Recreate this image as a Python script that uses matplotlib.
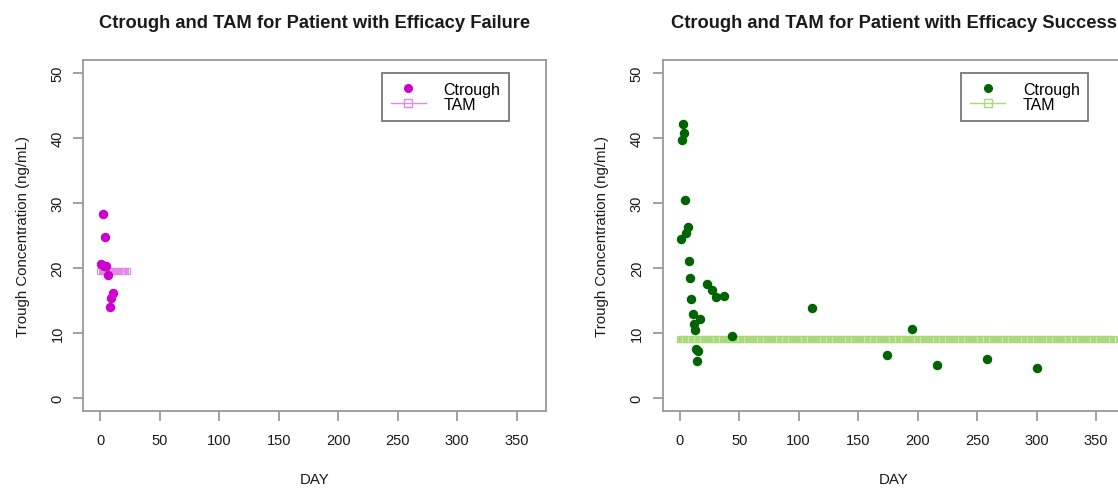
import numpy as np
import matplotlib
matplotlib.use("Agg")
import matplotlib.pyplot as plt
from matplotlib.lines import Line2D

plt.rcParams['font.family'] = ['Liberation Sans', 'DejaVu Sans']

# Patient with efficacy failure
fail_days = [1.9, 3.9, 0.5, 2.8, 5.0, 6.1, 10.6, 9.3, 8.1]
fail_ctrough = [28.3, 24.75, 20.7, 20.4, 20.3, 18.9, 16.2, 15.4, 14.0]
fail_tam = 19.6
fail_tam_days = list(range(0, 23))

# Patient with efficacy success
succ_days = [2.8, 3.6, 1.7, 4.8, 7.0, 5.6, 0.8, 7.6, 9.0, 23.0, 26.9, 30.3,
             37.0, 9.5, 10.9, 17.1, 11.8, 12.9, 43.7, 13.5, 15.7, 14.9,
             110.8, 194.9, 173.9, 216.0, 258.2, 300.2]
succ_ctrough = [42.2, 40.8, 39.7, 30.5, 26.4, 25.4, 24.5, 21.1, 18.5, 17.6,
                16.7, 15.5, 15.7, 15.3, 12.9, 12.2, 11.4, 10.5, 9.6, 7.5,
                7.3, 5.8, 13.9, 10.7, 6.7, 5.1, 6.1, 4.6]
succ_tam = 9.1
succ_tam_days = list(range(0, 366))

x_ticks = [0, 50, 100, 150, 200, 250, 300, 350]
y_ticks = [0, 10, 20, 30, 40, 50]

W, H = 1118, 489
fig = plt.figure(figsize=(W / 100, H / 100), dpi=100)

frame_col = '#9a9a9a'
text_col = '#1a1a1a'


def panel(x0, title, days, ctr, tam_days, tam_val, pt_col, tam_col):
    ax = fig.add_axes([x0 / W, (H - 412.3) / H, 462.4 / W, 351.3 / H])
    ax.plot(tam_days, [tam_val] * len(tam_days), color=tam_col, lw=1.0,
            marker='s', ms=3.9, mfc='none', mec=tam_col, mew=0.8, zorder=2)
    ax.plot(days, ctr, 'o', color=pt_col, ms=5.8, mec=pt_col, zorder=3)
    ax.set_xlim(-14.4, 374.4)
    ax.set_ylim(-2, 52)
    ax.set_xticks(x_ticks)
    ax.set_yticks(y_ticks)
    for s in ax.spines.values():
        s.set_color(frame_col)
        s.set_linewidth(1.3)
    ax.tick_params(axis='both', direction='out', length=7.5, width=1.3,
                   color=frame_col, labelcolor=text_col, labelsize=10.5)
    ax.tick_params(axis='x', pad=8)
    ax.tick_params(axis='y', pad=6)
    for lab in ax.get_yticklabels():
        lab.set_rotation(90)
        lab.set_va('center')
    ax.set_xlabel('DAY', fontsize=10.8, color=text_col, labelpad=18)
    ax.set_ylabel('Trough Concentration (ng/mL)', fontsize=10.8,
                  color=text_col, labelpad=15)
    fig.text((x0 + 231.2) / W, 1 - 23 / H, title, ha='center', va='center',
             fontsize=13.2, fontweight='bold', color=text_col)
    handles = [
        Line2D([], [], ls='none', marker='o', color=pt_col, ms=5.5),
        Line2D([], [], color=tam_col, lw=1.0, marker='s', ms=6, mfc='none',
               mec=tam_col),
    ]
    leg = ax.legend(handles, ['Ctrough', 'TAM'], loc='upper right',
                    bbox_to_anchor=(0.921, 0.963), fontsize=11.5,
                    frameon=True, fancybox=False, borderpad=0.55,
                    handlelength=2.2, handletextpad=1.1, labelspacing=0.0,
                    borderaxespad=0)
    leg.get_frame().set_edgecolor('#555555')
    leg.get_frame().set_linewidth(1.3)
    return ax


panel(83.3, 'Ctrough and TAM for Patient with Efficacy Failure',
      fail_days, fail_ctrough, fail_tam_days, fail_tam,
      '#CD00CD', '#E08AE8')
panel(662.6, 'Ctrough and TAM for Patient with Efficacy Success',
      succ_days, succ_ctrough, succ_tam_days, succ_tam,
      '#006400', '#A9D978')

fig.savefig('out.png', dpi=100)
